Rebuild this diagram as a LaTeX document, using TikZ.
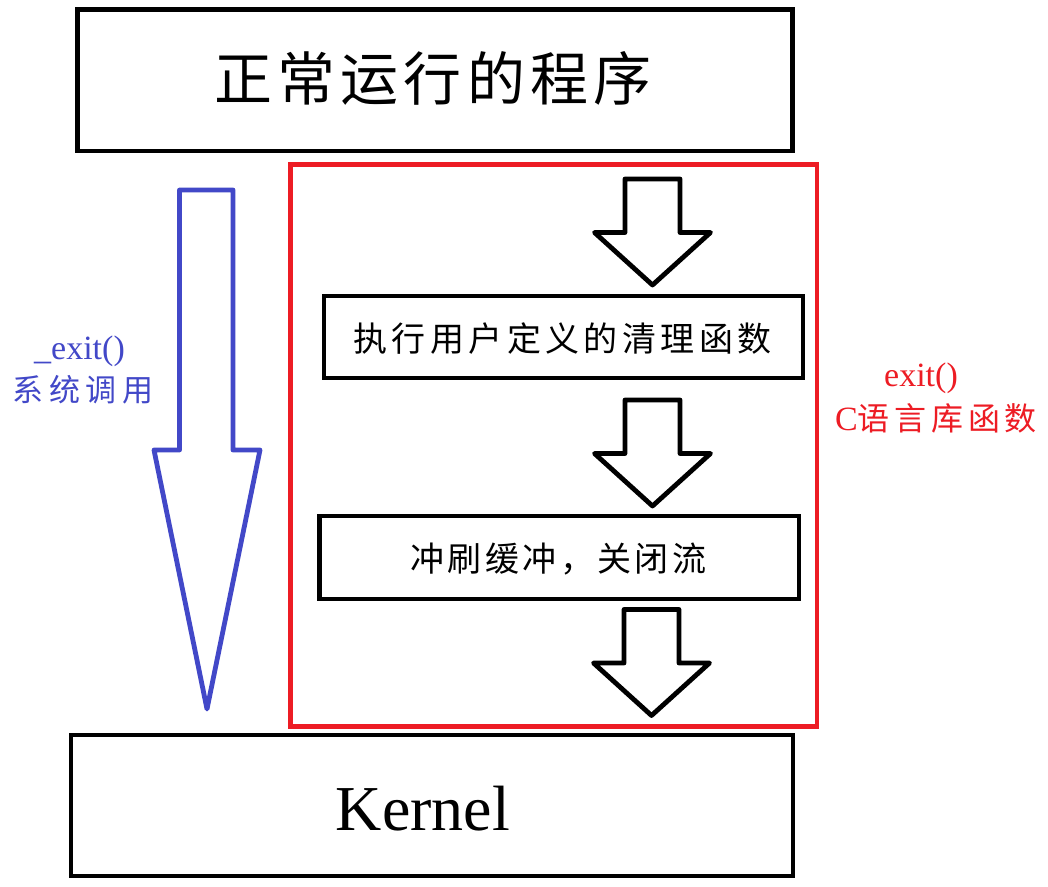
\documentclass[tikz,border=0pt]{standalone}
\usepackage{fontspec}
\setmainfont{Liberation Serif}
\newfontfamily\cjk{Noto Sans CJK SC}
\definecolor{sysblue}{RGB}{66,72,200}
\definecolor{libred}{RGB}{237,28,36}
\begin{document}
\begin{tikzpicture}[x=1pt,y=-1pt,
  box/.style={draw=black,line width=4.8pt,inner sep=0pt,fill=none},
  arrowline/.style={draw=black,line width=4.8pt,line join=round},
  blockarr/.pic={\draw[arrowline] (-27.5,0) -- (27.5,0) -- (27.5,53.5) -- (58,53.5) -- (0,106) -- (-58,53.5) -- (-27.5,53.5) -- cycle;},
  lbl/.style={inner sep=0pt,anchor=base}]
\useasboundingbox (0,0) rectangle (1048,886);
\fill[white] (0,0) rectangle (1048,886);
% boxes
\node[box,minimum width=715pt,minimum height=141.5pt] (prog) at (435,80.25) {};
\node[box,minimum width=722pt,minimum height=141pt] (kernel) at (432,805.5) {};
\node[draw=libred,line width=4.8pt,inner sep=0pt,minimum width=526.5pt,minimum height=562pt] (lib) at (553.75,445.5) {};
\node[box,minimum width=479pt,minimum height=82pt] (clean) at (563.5,337) {};
\node[box,minimum width=479.5pt,minimum height=83pt] (flush) at (559.25,557.5) {};
% texts
\node[lbl] (progtxt) at (433,100) {\cjk\fontsize{58}{60}\selectfont\addfontfeatures{LetterSpace=9}正常运行的程序};
\node[lbl] (kerneltxt) at (423,830) {\fontsize{64}{66}\selectfont Kernel};
\node[lbl] (cleantxt) at (562.5,351) {\cjk\fontsize{34}{36}\selectfont\addfontfeatures{LetterSpace=13}执行用户定义的清理函数};
\node[lbl] (flushtxt) at (558.5,571) {\cjk\fontsize{34}{36}\selectfont\addfontfeatures{LetterSpace=10}冲刷缓冲，关闭流};
\node[lbl,text=sysblue] (sysa) at (79.5,359) {\fontsize{34}{36}\selectfont \_exit()};
\node[lbl,text=sysblue] (sysb) at (83,401) {\cjk\fontsize{31}{33}\selectfont\addfontfeatures{LetterSpace=18}系统调用};
\node[lbl,text=libred] (liba) at (921,386) {\fontsize{34}{36}\selectfont exit()};
\node[lbl,text=libred] (libb) at (936,430.5) {\fontsize{34}{36}\selectfont C\cjk\fontsize{32}{34}\selectfont\addfontfeatures{LetterSpace=15}语言库函数};
% system call arrow
\coordinate (systop) at (206.25,190);
\draw[draw=sysblue,line width=4.8pt,line join=round]
  (179.5,190) -- (233,190) -- (233,450) -- (260,450) -- (207,709) -- (154,450) -- (179.5,450) -- cycle;
% library arrows
\coordinate (a1) at (652.5,179);
\coordinate (a2) at (652.5,400);
\coordinate (a3) at (651.5,609.5);
\pic at (a1) {blockarr};
\pic at (a2) {blockarr};
\pic at (a3) {blockarr};
\end{tikzpicture}
\end{document}
